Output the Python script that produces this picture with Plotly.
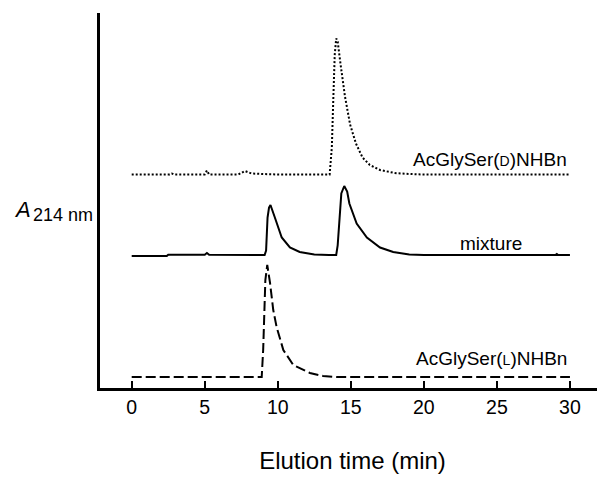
import plotly.graph_objects as go

# ---- data ----
# time (min) / detector signal above each trace's own baseline (arbitrary units)
d_time = [0, 2.6, 2.75, 2.9, 5.0, 5.15, 5.3, 7.3, 7.75, 8.2, 9.0, 10.0, 13.55, 13.7, 13.8, 13.9, 14.0, 14.1,
          14.3, 14.6, 14.95, 15.35, 15.8, 16.3, 17.0, 18.0, 19.0, 20.0, 22.0, 25.0, 28.0, 29.0, 30.0]
d_signal = [0, 0, 1, 0, 0, 4, 0, 0, 3.5, 1, 0.5, 0, 0, 27, 75, 120, 136, 133,
            110, 78, 50, 31, 17, 9.5, 4.5, 1.5, 0.5, 0, 0, 0, 0, 0.5, 0]

mix_time = [0, 2.4, 2.5, 5.0, 5.15, 5.3, 9.1, 9.2, 9.3, 9.4, 9.5, 9.65, 9.8, 10.27, 10.83, 11.5, 12.5, 13.5,
            14.0, 14.1, 14.2, 14.35, 14.55, 14.75, 14.9, 15.4, 16.1, 17.0, 17.9, 19.0, 20.0, 25.0, 29.0, 29.1, 29.2, 30.0]
mix_signal = [-0.5, -0.5, 0.8, 0.8, 2.5, 0.8, 0.5, 5, 38, 48, 50.5, 45, 38, 18, 8, 3.5, 1, 0.5,
              0.5, 10, 35, 62, 69.5, 64, 52, 32, 18, 8, 3.5, 1, 0.5, 0.5, 0.5, 1.5, 0.5, 0.5]

l_time = [0, 8.9, 9.0, 9.08, 9.15, 9.28, 9.47, 9.69, 9.92, 10.38, 11.06, 12.2, 13.1, 14.0, 30.0]
l_signal = [0, 0, 27, 77, 97, 112, 94, 67, 50, 27, 12, 4, 1, 0, 0]

# vertical offsets of the stacked traces
offsets = {"D": 213.5, "mix": 132.5, "L": 11.0}

x_ticks = [0, 5, 10, 15, 20, 25, 30]
labels = {"D": "AcGlySer(<span style='font-size:14px'>D</span>)NHBn",
          "mix": "mixture",
          "L": "AcGlySer(<span style='font-size:14px'>L</span>)NHBn"}

FONT = "Liberation Sans, Arial, Helvetica, sans-serif"

fig = go.Figure()
fig.add_trace(go.Scatter(x=d_time, y=[v + offsets["D"] for v in d_signal], mode="lines",
                         line=dict(color="black", width=2, dash="2px,2px"), showlegend=False))
fig.add_trace(go.Scatter(x=mix_time, y=[v + offsets["mix"] for v in mix_signal], mode="lines",
                         line=dict(color="black", width=2), showlegend=False))
fig.add_trace(go.Scatter(x=l_time, y=[v + offsets["L"] for v in l_signal], mode="lines",
                         line=dict(color="black", width=2, dash="10px,4px"), showlegend=False))

ann = []
ann.append(dict(x=24.56, y=offsets["D"] + 15, xref="x", yref="y", text=labels["D"], showarrow=False,
                xanchor="center", yanchor="middle", font=dict(size=19, color="black", family=FONT)))
ann.append(dict(x=24.6, y=offsets["mix"] + 12, xref="x", yref="y", text=labels["mix"], showarrow=False,
                xanchor="center", yanchor="middle", font=dict(size=19, color="black", family=FONT)))
ann.append(dict(x=24.6, y=offsets["L"] + 19, xref="x", yref="y", text=labels["L"], showarrow=False,
                xanchor="center", yanchor="middle", font=dict(size=19, color="black", family=FONT)))
ann.append(dict(x=-0.174, y=0.475, xref="paper", yref="paper", text="<i>A</i>", showarrow=False,
                xanchor="left", yanchor="middle", font=dict(size=22, color="black", family=FONT)))
ann.append(dict(x=-0.136, y=0.462, xref="paper", yref="paper", text="214 nm", showarrow=False,
                xanchor="left", yanchor="middle", font=dict(size=18, color="black", family=FONT)))

fig.update_layout(
    width=597, height=469,
    margin=dict(l=92, r=0, t=5, b=89),
    paper_bgcolor="white", plot_bgcolor="white",
    font=dict(family=FONT, color="black"),
    annotations=ann,
    xaxis=dict(range=[-2.17, 32.4], tickvals=x_ticks, ticks="inside", ticklen=7, tickwidth=1.5,
               tickcolor="black", showline=True, linecolor="black", linewidth=2.5, showgrid=False,
               zeroline=False, tickfont=dict(size=19.5, family=FONT, color="black"),
               title=dict(text="Elution time (min)", font=dict(size=24, family=FONT, color="black"), standoff=36)),
    yaxis=dict(range=[0, 375], showticklabels=False, ticks="", showline=True, linecolor="black",
               linewidth=2.5, showgrid=False, zeroline=False),
)

fig.write_html("out.html")
